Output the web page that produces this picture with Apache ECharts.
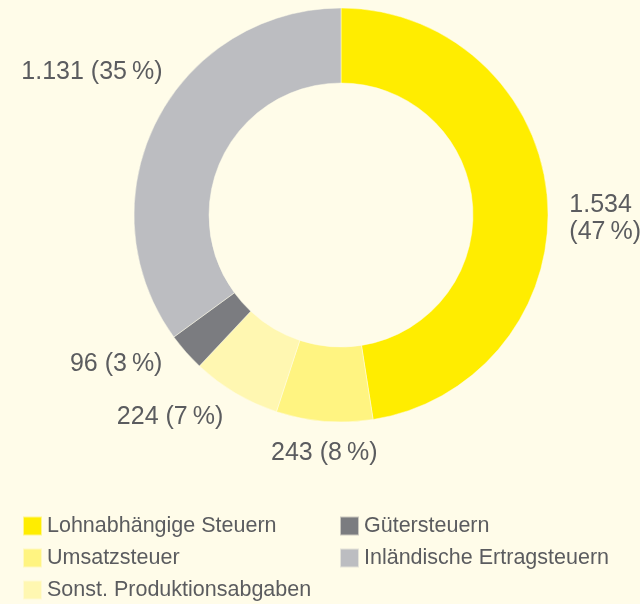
<!DOCTYPE html>
<html>
<head>
<meta charset="utf-8">
<script src="https://cdn.jsdelivr.net/npm/echarts@6/dist/echarts.min.js"></script>
<style>
  html, body { margin: 0; padding: 0; background: #FFFCE9; }
  #chart { width: 640px; height: 604px; }
</style>
</head>
<body>
<div id="chart"></div>
<script>
var categories = ['Lohnabhängige Steuern', 'Umsatzsteuer', 'Sonst. Produktionsabgaben', 'Gütersteuern', 'Inländische Ertragsteuern'];
var values = [1534, 243, 224, 96, 1131];
var percentLabels = [47, 8, 7, 3, 35];
var colors = ['#FFED00', '#FFF481', '#FFF7B1', '#7B7C80', '#BCBDC1'];

// label nudges (dx, dy) from the default outside position
var labelDx = [7, 59, -2, -11, 20];
var labelDy = [20, 22, 15, 5, -45];

function fmt(n) {
    // German thousands separator
    return String(n).replace(/\B(?=(\d{3})+(?!\d))/g, '.');
}

var chart = echarts.init(document.getElementById('chart'));

var pieData = [];
for (var i = 0; i < categories.length; i++) {
    pieData.push({ name: categories[i], value: values[i], itemStyle: { color: colors[i] } });
}

var legendText = { fontFamily: 'Liberation Sans', fontSize: 21.5, color: '#5B5C5F', lineHeight: 19 };

var option = {
    backgroundColor: '#FFFCE9',
    animation: false,
    legend: [{
        orient: 'vertical',
        left: 22,
        top: 515,
        padding: 0,
        height: 300,
        itemWidth: 19,
        itemHeight: 19,
        itemGap: 10,
        icon: 'rect',
        data: categories.slice(0, 3),
        textStyle: legendText
    }, {
        orient: 'vertical',
        left: 339,
        top: 515,
        padding: 0,
        height: 300,
        itemWidth: 19,
        itemHeight: 19,
        itemGap: 10,
        icon: 'rect',
        data: categories.slice(3),
        textStyle: legendText
    }],
    series: [{
        type: 'pie',
        center: [341, 215],
        radius: [132, 207],
        startAngle: 90,
        clockwise: true,
        avoidLabelOverlap: false,
        data: pieData,
        itemStyle: { borderColor: 'rgba(255,252,233,0.6)', borderWidth: 0.8 },
        emphasis: { disabled: true },
        label: {
            position: 'outside',
            fontFamily: 'Liberation Sans',
            fontSize: 25,
            lineHeight: 27,
            color: '#5B5C5F',
            formatter: function (p) {
                var i = p.dataIndex;
                var sep = i === 0 ? '\n' : ' ';
                return fmt(values[i]) + sep + '(' + percentLabels[i] + '\u2009%)';
            }
        },
        labelLine: { show: false, length: 10, length2: 0 },
        labelLayout: function (p) {
            return { dx: labelDx[p.dataIndex], dy: labelDy[p.dataIndex] };
        }
    }]
};

chart.setOption(option);
</script>
</body>
</html>
